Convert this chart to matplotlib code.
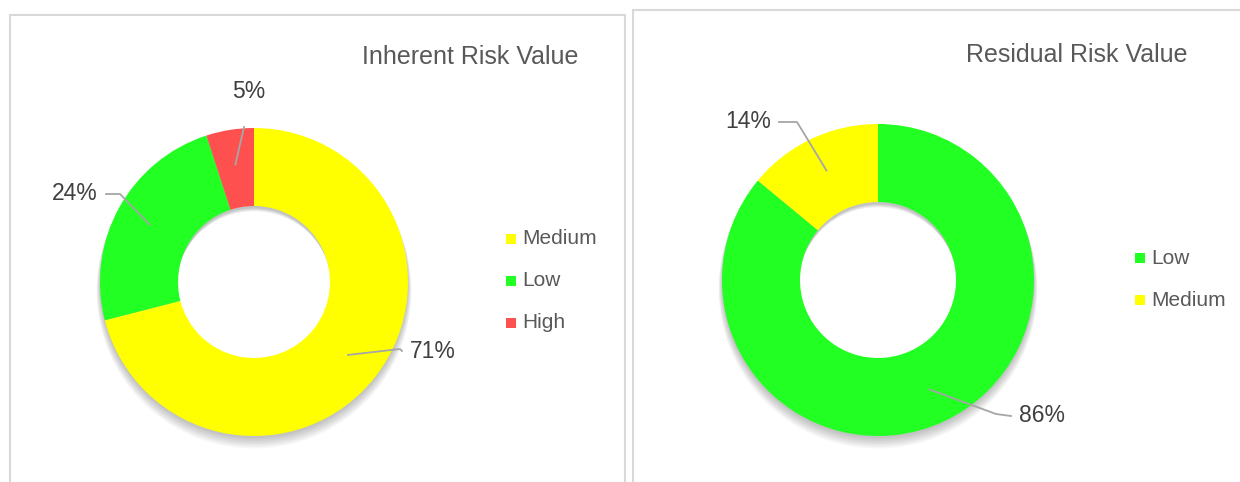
import matplotlib
matplotlib.use("Agg")
import matplotlib.pyplot as plt
from matplotlib.patches import Rectangle, Wedge
import numpy as np

plt.rcParams['font.family'] = ['Liberation Sans', 'DejaVu Sans']

# data
inherent_labels = ['Medium', 'Low', 'High']
inherent_values = [71, 24, 5]
inherent_colors = ['#FFFF00', '#22FF22', '#FF5050']

residual_labels = ['Low', 'Medium']
residual_values = [86, 14]
residual_colors = ['#22FF22', '#FFFF00']

W, H = 1240, 482
fig = plt.figure(figsize=(W / 100, H / 100), dpi=100)
ax = fig.add_axes([0, 0, 1, 1])

def py(y):
    # image row -> data y
    return H - y

# panel borders
ax.add_patch(Rectangle((10, py(490)), 615, 475, fill=False, ec='#D9D9D9', lw=1.5))
ax.add_patch(Rectangle((633, py(490)), 620, 480, fill=False, ec='#D9D9D9', lw=1.5))

def donut(cx, cy, R, r, values, colors, labels, title, tx, ty, label_pos, legend_x, legend_y):
    c = (cx, py(cy))
    # soft shadow below the ring
    for k in range(8):
        ax.add_patch(Wedge((cx, py(cy) - 2 - k), R + 0.5 * k, 0, 360, width=R - r,
                           fc='#000000', ec='none', alpha=0.03))
    wedges, _ = ax.pie(values, colors=colors, startangle=90, counterclock=False,
                       center=c, radius=R, frame=True,
                       wedgeprops=dict(width=R - r, linewidth=0))
    for w, v, (lx, ly, bx, by, ha) in zip(wedges, values, label_pos):
        ang = np.deg2rad((w.theta1 + w.theta2) / 2)
        rm = (R + r) / 2 + 4
        px, pyy = cx + rm * np.cos(ang), py(cy) + rm * np.sin(ang)
        xs, ys = [px, bx], [pyy, py(by)]
        if ha != 'center':
            xs.append(lx + (8 if ha == 'right' else -8))
            ys.append(py(ly))
        ax.plot(xs, ys, color='#A6A6A6', lw=1.3)
        ax.text(lx, py(ly), f'{v}%', ha=ha, va='center', fontsize=16.5, color='#404040')
    ax.text(tx, py(ty), title, ha='right', va='center', fontsize=18, color='#595959')
    for i, (lab, col) in enumerate(zip(labels, colors)):
        yy = legend_y + i * 42
        ax.add_patch(Rectangle((legend_x, py(yy) - 5), 10, 10, fc=col, ec='none'))
        ax.text(legend_x + 16, py(yy), lab, ha='left', va='center', fontsize=15, color='#595959')

donut(254, 282, 154, 76, inherent_values, inherent_colors, inherent_labels,
      'Inherent Risk Value', 578, 57,
      [(410, 351, 400, 349, 'left'), (98, 194, 120, 194, 'right'), (249, 91, 244, 127, 'center')],
      506, 239)

donut(878, 280, 156, 78, residual_values, residual_colors, residual_labels,
      'Residual Risk Value', 1187, 55,
      [(1019, 416, 996, 414, 'left'), (771, 122, 797, 122, 'right')],
      1135, 258)

ax.set_xlim(0, W)
ax.set_ylim(0, H)
ax.set_aspect('equal')
ax.axis('off')

fig.savefig('out.png', dpi=100)
